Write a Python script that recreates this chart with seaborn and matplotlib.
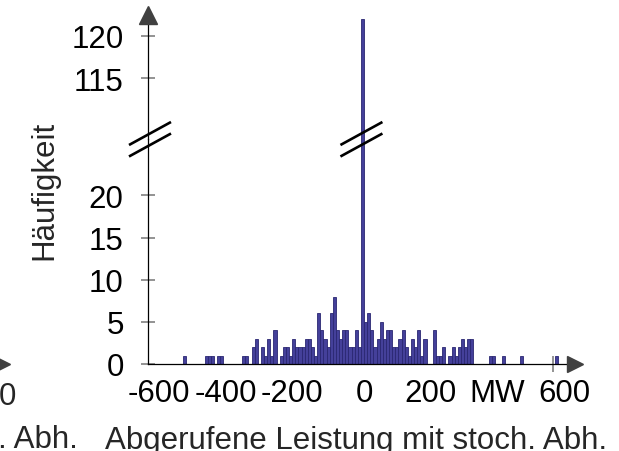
import numpy as np
import pandas as pd
import matplotlib
matplotlib.use("Agg")
import matplotlib.pyplot as plt
from matplotlib.lines import Line2D
from matplotlib.transforms import ScaledTranslation
import seaborn as sns

# ---- data: class centres (MW) of non-empty classes and their counts
power_mw = [
    -539.1, -473.4, -464.1, -454.7, -435.9, -426.6, -360.9, -351.6,
    -332.8, -323.4, -304.7, -295.3, -285.9, -276.6, -267.2, -248.4,
    -239.1, -229.7, -220.3, -210.9, -201.6, -192.2, -182.8, -173.4,
    -164.1, -154.7, -145.3, -135.9, -126.6, -117.2, -107.8, -98.4,
    -89.1, -79.7, -70.3, -60.9, -51.6, -42.2, -32.8, -23.4, -14.1,
    -4.7,
    4.7, 14.1, 23.4, 32.8, 42.2, 51.6, 60.9, 70.3, 79.7, 89.1, 98.4,
    107.8, 117.2, 126.6, 135.9, 145.3, 154.7, 164.1, 173.4, 182.8,
    210.9, 220.3, 229.7, 239.1, 257.8, 267.2, 276.6, 285.9, 295.3,
    304.7, 314.1, 323.4,
    379.7, 389.1, 417.2, 473.4, 576.6,
]
frequency = [
    1, 1, 1, 1, 1, 1, 1, 1,
    2, 3, 2, 1, 3, 1, 4, 1,
    2, 2, 1, 3, 2, 2, 2, 3,
    3, 2, 1, 6, 4, 3, 2, 6,
    8, 4, 3, 4, 4, 2, 2, 4, 2,
    122,
    5, 6, 4, 2, 3, 5, 3, 4, 4, 2, 2,
    3, 4, 2, 1, 3, 2, 4, 1, 3,
    4, 1, 1, 2, 1, 2, 1, 2, 3,
    2, 3, 3,
    1, 1, 1, 1, 1,
]

x_tick_values = [-600, -400, -200, 0, 200, 400, 600]
x_tick_labels = ["-600", "-400", "-200", "0", "200", "MW", "600"]
x_tick_marks = [-600, -400, -200, 0, 200, 400, 567]
y_ticks_low = [0, 5, 10, 15, 20]
y_ticks_high = [115, 120]

x_label = "Abgerufene Leistung mit stoch. Abh."
y_label = "Häufigkeit"

# ---- style
sns.set_style("white")
plt.rcParams["font.family"] = ["Liberation Sans", "DejaVu Sans"]
FS = 22.5
plt.rcParams["font.size"] = FS

W, H = 619, 452
fig = plt.figure(figsize=(W / 100, H / 100), dpi=100)


def rect(l, t, r, b):
    return [l / W, 1 - b / H, (r - l) / W, (b - t) / H]


ax_lo = fig.add_axes(rect(148, 140, 575, 365))
ax_hi = fig.add_axes(rect(148, 16, 575, 140))

df = pd.DataFrame({"power": power_mw, "freq": frequency})
bar_face = "#44409a"
bar_edge = "#2a2772"
for ax in (ax_lo, ax_hi):
    sns.histplot(data=df, x="power", weights="freq", bins=128,
                 binrange=(-600, 600), color=bar_face, edgecolor=bar_edge,
                 linewidth=0.6, alpha=1, ax=ax)
    ax.set_xlabel("")
    ax.set_ylabel("")
    ax.set_xlim(-648, 633)
    ax.patch.set_alpha(0)

ax_lo.set_ylim(0, 26.7)
ax_hi.set_ylim(107.9, 122.43)

# spines
for side in ("top", "right"):
    ax_lo.spines[side].set_visible(False)
for side in ("top", "right", "bottom"):
    ax_hi.spines[side].set_visible(False)
for ax, sides in ((ax_lo, ("left", "bottom")), (ax_hi, ("left",))):
    for s in sides:
        ax.spines[s].set_color("black")
        ax.spines[s].set_linewidth(0.9)

# y ticks
tick_grey = "#808080"
ax_lo.set_yticks(y_ticks_low)
ax_hi.set_yticks(y_ticks_high)
for ax in (ax_lo, ax_hi):
    ax.tick_params(axis="y", left=True, direction="inout", length=10,
                   width=1.2, color=tick_grey, pad=12.5, labelsize=FS,
                   labelcolor="black")

# x ticks
ax_hi.tick_params(axis="x", bottom=False, labelbottom=False)
ax_hi.set_xticks([])
ax_lo.set_xticks(x_tick_values, x_tick_labels)
ax_lo.set_xticks(x_tick_marks, minor=True)
ax_lo.tick_params(axis="x", which="major", bottom=True, length=0, pad=10,
                  labelsize=FS, labelcolor="black")
ax_lo.tick_params(axis="x", which="minor", bottom=True, direction="inout",
                  length=11.5, width=1.2, color=tick_grey)
shift = ScaledTranslation(-5 / 100, 0, fig.dpi_scale_trans)
for lbl in ax_lo.get_xticklabels():
    if lbl.get_text().startswith("-"):
        lbl.set_transform(lbl.get_transform() + shift)

# axis arrow heads
arrow_col = "#404040"
ax_lo.plot([1], [0], marker=">", ms=11.5, color=arrow_col,
           transform=ax_lo.transAxes, clip_on=False, zorder=5)
ax_hi.plot([0], [1], marker="^", ms=12.5, color=arrow_col,
           transform=ax_hi.transAxes, clip_on=False, zorder=5)

# axis break marks (//) on the y axis and on the tall bar
inv = fig.transFigure.inverted()
anchors = [
    ax_lo.transAxes.transform((0, 1)) + np.array([2, 0]),
    ax_lo.transData.transform((-4.7, 26.7)) + np.array([-1, 0]),
]
for a in anchors:
    for (dx0, dy0, dx1, dy1) in ((-21, -6, 21, 17), (-21, -17.5, 21, 5.5)):
        p0 = inv.transform(a + np.array([dx0, dy0]))
        p1 = inv.transform(a + np.array([dx1, dy1]))
        fig.add_artist(Line2D([p0[0], p1[0]], [p0[1], p1[1]], color="black",
                              lw=1.9, solid_capstyle="butt", zorder=6))

# axis titles
fig.text(356 / W, 1 - 449 / H, x_label, ha="center", va="baseline",
         fontsize=FS)
fig.text(44 / W, 1 - 190 / H, y_label, rotation=90, ha="center",
         va="center", fontsize=FS)

# fragments of the neighbouring chart at the left edge
fig.text(78 / W, 1 - 448 / H, ". Abh.", ha="right", va="baseline",
         fontsize=FS)
fig.text(7.5 / W, 1 - 405 / H, "0", ha="center", va="baseline", fontsize=FS)
fig.add_artist(Line2D([2 / W], [1 - 365 / H], marker=">", ms=11.5,
                      color=arrow_col, lw=0))

fig.savefig("out.png", dpi=100)
